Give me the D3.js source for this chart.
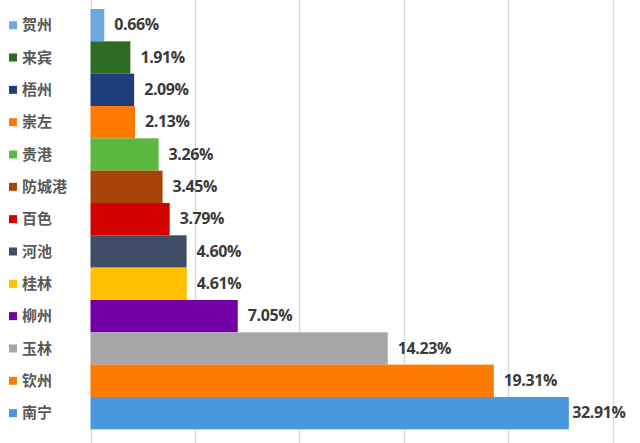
<!DOCTYPE html>
<html>
<head>
<meta charset="utf-8">
<script src="https://cdn.jsdelivr.net/npm/d3@7/dist/d3.min.js"></script>
<style>
  html, body { margin: 0; padding: 0; background: #fff; }
  svg { display: block; }
</style>
</head>
<body>
<svg id="chart" width="640" height="443"></svg>
<script>
const categories = ["贺州","来宾","梧州","崇左","贵港","防城港","百色","河池","桂林","柳州","玉林","钦州","南宁"];
const values = [0.66, 1.91, 2.09, 2.13, 3.26, 3.45, 3.79, 4.60, 4.61, 7.05, 14.23, 19.31, 32.91];
const colors = ["#6fa8dc","#2f6b24","#1f3d7a","#ff7a00","#5ab740","#a8430a","#d30000","#3f4d66","#ffc000","#7300a6","#a6a6a6","#ff7a00","#4a97dd"];
const gridTicks = [0, 5, 10, 15, 20, 25];
const axisBreak = 22.9; // bars longer than this are drawn broken (clipped)

const svg = d3.select("#chart");
const W = 640, H = 443;

const x = d3.scaleLinear().domain([0, 25]).range([90.5, 612.7]);
const y = d3.scaleBand().domain(categories).range([9, 429.3]).padding(0);

// gridlines
svg.append("g").selectAll("line").data(gridTicks).join("line")
  .attr("x1", d => Math.round(x(d)) + 0.5).attr("x2", d => Math.round(x(d)) + 0.5)
  .attr("y1", 0).attr("y2", H)
  .attr("stroke", "#d9d9d9").attr("stroke-width", 1.3);

const data = categories.map((c, i) => ({ c, v: values[i], col: colors[i] }));

// bars
svg.append("g").selectAll("rect").data(data).join("rect")
  .attr("x", x(0))
  .attr("y", d => y(d.c))
  .attr("width", d => x(Math.min(d.v, axisBreak)) - x(0))
  .attr("height", y.bandwidth())
  .attr("fill", d => d.col);

// value labels
svg.append("g").selectAll("text").data(data).join("text")
  .attr("x", d => x(Math.min(d.v, axisBreak)) + (d.v > axisBreak ? 3.5 : 10))
  .attr("y", d => y(d.c) + y.bandwidth() / 2 + 1)
  .attr("dominant-baseline", "middle")
  .attr("font-family", "'Open Sans', 'Noto Sans', sans-serif")
  .attr("font-weight", "bold")
  .attr("font-size", 16)
  .attr("letter-spacing", -0.4)
  .attr("fill", "#3a3a3a")
  .text(d => d.v.toFixed(2) + "%");

// category legend on the left
const leg = svg.append("g").selectAll("g").data(data).join("g")
  .attr("transform", d => `translate(0, ${y(d.c) + y.bandwidth() / 2})`);
leg.append("rect")
  .attr("x", 9).attr("y", -4).attr("width", 8).attr("height", 8)
  .attr("fill", d => d.col);
leg.append("text")
  .attr("x", 22).attr("y", 1)
  .attr("dominant-baseline", "middle")
  .attr("font-family", "'Noto Sans CJK SC', sans-serif")
  .attr("font-weight", "bold")
  .attr("font-size", 15)
  .attr("fill", "#595959")
  .text(d => d.c);
</script>
</body>
</html>
